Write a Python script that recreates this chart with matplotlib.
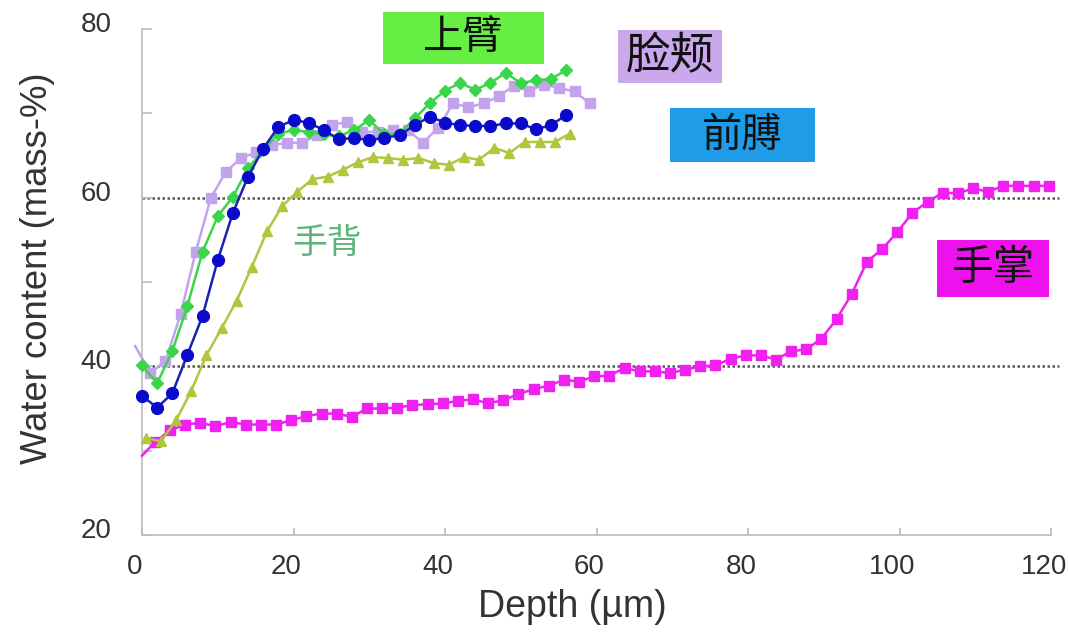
import numpy as np
import matplotlib
matplotlib.use('Agg')
import matplotlib.pyplot as plt
import matplotlib.transforms as mtransforms
from matplotlib.patches import Rectangle

plt.rcParams['font.family'] = ['Liberation Sans', 'Noto Sans CJK SC', 'DejaVu Sans']

# ---------------- data ----------------
forearm_depth = np.arange(0, 57, 2)
forearm = [36.5, 35.1, 36.8, 41.4, 46.0, 52.6, 58.2, 62.5, 65.8, 68.4,
           69.2, 68.9, 68.0, 66.9, 67.1, 66.8, 67.1, 67.4, 68.6, 69.6,
           68.9, 68.6, 68.5, 68.5, 68.8, 68.8, 68.1, 68.6, 69.8]

upper_arm_depth = np.arange(0, 57, 2)
upper_arm = [40.1, 38.0, 41.8, 47.2, 53.6, 57.8, 60.1, 63.5, 65.6, 67.6,
             68.0, 67.8, 67.5, 67.3, 68.0, 69.2, 67.5, 67.6, 69.4, 71.2,
             72.7, 73.6, 72.8, 73.6, 74.8, 73.6, 73.9, 74.1, 75.1]

cheek_depth = np.concatenate([[-0.9], np.arange(1.1, 60, 2)])
cheek = [42.4, 39.2, 40.6, 46.2, 53.6, 60.0, 63.1, 64.7, 65.4, 66.2,
         66.5, 66.5, 67.4, 68.6, 69.0, 67.8, 67.8, 68.0, 68.0, 66.5,
         68.3, 71.2, 70.7, 71.2, 72.0, 73.3, 72.7, 73.4, 73.0, 72.6,
         71.2]

back_hand_depth = np.arange(0.5, 57, 2)
back_hand = [31.5, 31.1, 33.6, 37.1, 41.3, 44.5, 47.8, 51.8, 56.0, 59.0,
             60.7, 62.2, 62.5, 63.3, 64.2, 64.8, 64.7, 64.5, 64.7, 64.1,
             63.9, 64.8, 64.5, 65.9, 65.3, 66.6, 66.6, 66.6, 67.6]

palm_depth = np.concatenate([[0.0], np.arange(1.7, 120, 2)])
palm = [29.4,
        31.0, 32.4, 33.1, 33.3, 32.9, 33.4, 33.1, 33.1, 33.1, 33.6,
        34.1, 34.4, 34.4, 34.0, 35.0, 35.0, 35.1, 35.4, 35.5, 35.6,
        35.9, 36.1, 35.6, 36.0, 36.7, 37.3, 37.7, 38.4, 38.2, 38.8,
        38.9, 39.8, 39.4, 39.4, 39.2, 39.6, 40.0, 40.1, 40.9, 41.3,
        41.3, 40.8, 41.8, 42.0, 43.3, 45.6, 48.6, 52.4, 53.9, 55.9,
        58.2, 59.5, 60.6, 60.5, 61.1, 60.7, 61.4, 61.4, 61.4, 61.4]

ref_levels = [40, 60]

# ---------------- figure ----------------
W, H = 1068, 636
fig = plt.figure(figsize=(W / 100, H / 100), dpi=100, facecolor='w')
ax = fig.add_axes([142 / W, (H - 535) / H, 909 / W, 506 / H])

# reference lines
ax.hlines(ref_levels, 0, 121, colors='#555555', linestyles=(0, (1, 1)),
          linewidth=1.8, zorder=1, clip_on=False)

# curves
ax.plot(palm_depth, palm, '-s', color='#EE22EE', mfc='#F020F0', mec='#F020F0',
        markersize=7.5, linewidth=1.8, markevery=list(range(1, len(palm))),
        clip_on=False, zorder=3)
ax.plot(back_hand_depth, back_hand, '-^', color='#B0C63C', markersize=7,
        linewidth=1.8, clip_on=False, zorder=4)
ax.plot(cheek_depth, cheek, '-s', color='#C3A4EC', markersize=7.5,
        linewidth=1.8, markevery=list(range(1, len(cheek))),
        clip_on=False, zorder=4)
ax.plot(upper_arm_depth, upper_arm, '-D', color='#3AD64A', markersize=6.5,
        linewidth=1.8, clip_on=False, zorder=5)
ax.plot(forearm_depth, forearm, '-o', color='#1A22B0', mfc='#0A0ACC',
        mec='#0A0ACC', markersize=8.5, linewidth=1.8, clip_on=False, zorder=6)

# axes styling
ax.set_xlim(0, 120)
ax.set_ylim(20, 80)
ax.set_xticks(range(0, 121, 20))
ax.set_yticks(range(20, 81, 20))
ax.set_yticks(range(30, 80, 20), minor=True)
for s in ['top', 'right']:
    ax.spines[s].set_visible(False)
for s in ['left', 'bottom']:
    ax.spines[s].set_color('#BBBBBB')
    ax.spines[s].set_linewidth(1.2)
ax.tick_params(axis='both', which='both', direction='in', color='#BBBBBB',
               width=1.2, labelcolor='#333333', labelsize=20)
ax.tick_params(axis='y', which='both', length=7, pad=25)
ax.tick_params(axis='x', length=5, pad=14)

for lab in ax.get_xticklabels():
    lab.set_transform(lab.get_transform() +
                      mtransforms.ScaledTranslation(-0.07, 0, fig.dpi_scale_trans))
for lab in ax.get_yticklabels():
    lab.set_transform(lab.get_transform() +
                      mtransforms.ScaledTranslation(0.04, 0.07, fig.dpi_scale_trans))

ax.set_xlabel('Depth (µm)', fontsize=27, color='#333333', va='center')
ax.xaxis.set_label_coords((572 - 142) / 909, -(607 - 535) / 506)
ax.set_ylabel('Water content (mass-%)', fontsize=26.3, color='#333333', va='center')
ax.yaxis.set_label_coords((38 - 142) / 909, (535 - 268) / 506)

# region labels (boxes in pixel coordinates of the picture)
cjk = ['Noto Sans CJK SC', 'DejaVu Sans']


def box_label(text, x0, y0, x1, y1, face, size):
    fig.add_artist(Rectangle((x0 / W, (H - y1) / H), (x1 - x0) / W, (y1 - y0) / H,
                             transform=fig.transFigure, facecolor=face,
                             edgecolor='none', zorder=7))
    fig.text((x0 + x1) / 2 / W, (H - (y0 + y1) / 2) / H, text, ha='center',
             va='center', fontsize=size, color='#111111', family=cjk, zorder=8)


box_label('上臂', 383, 12, 544, 64, '#66EE44', 29)
box_label('脸颊', 618, 30, 722, 83, '#C9A8EC', 32)
box_label('前膊', 670, 108, 815, 162, '#1E9CE8', 29)
box_label('手掌', 937, 240, 1049, 297, '#EE11EE', 30)
fig.text(327 / W, (H - 243) / H, '手背', ha='center', va='center', fontsize=25,
         color='#5BB57A', family=cjk)

fig.savefig('out.png', dpi=100)
